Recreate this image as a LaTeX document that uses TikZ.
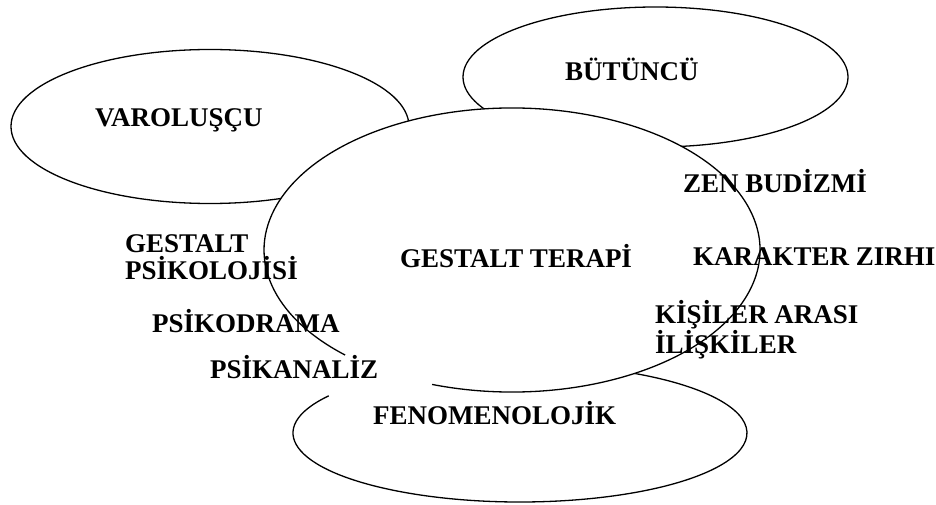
\documentclass[tikz,border=0pt]{standalone}
\usepackage{fontspec}
\setmainfont{Liberation Serif}
\begin{document}
\begin{tikzpicture}[x=1pt,y=1pt,
  outline/.style={draw=black,line width=1.3pt},
  lbl/.style={inner sep=0pt,anchor=base west,font=\bfseries\fontsize{27}{27}\selectfont,align=left}]
\useasboundingbox[fill=white] (0,0) rectangle (936,-505);
% centres
\coordinate (cv) at (210,-126.5);
\coordinate (cb) at (655.5,-77);
\coordinate (cf) at (520,-433);
\coordinate (cg) at (512,-250);
% outer ellipses
\draw[outline] (cv) ellipse[x radius=199pt,y radius=77pt];
\draw[outline] (cb) ellipse[x radius=192.5pt,y radius=70pt];
\draw[outline] ([shift={(147.4:227pt and 69pt)}]cf) arc[start angle=147.4,end angle=430,x radius=227pt,y radius=69pt];
% central ellipse on top
\fill[white] (cg) ellipse[x radius=248pt,y radius=142pt];
\draw[outline] ([shift={(251.2:248pt and 142pt)}]cg) arc[start angle=251.2,end angle=587.7,x radius=248pt,y radius=142pt];
% labels
\node[lbl] (varolus) at (95,-127) {VAROLUŞÇU};
\node[lbl] (butuncu) at (565,-81) {BÜTÜNCÜ};
\node[lbl] (gterapi) at (400,-267) {GESTALT TERAPİ};
\node[lbl] (gpsiko) at (125,-279) {GESTALT\\PSİKOLOJİSİ};
\node[lbl] (psikodrama) at (152,-332) {PSİKODRAMA};
\node[lbl] (psikanaliz) at (210,-378) {PSİKANALİZ};
\node[lbl] (zen) at (683,-193) {ZEN BUDİZMİ};
\node[lbl] (karakter) at (693,-265) {KARAKTER ZIRHI};
\node[lbl] (kisiler) at (655,-353) {KİŞİLER ARASI\\İLİŞKİLER};
\node[lbl] (fenom) at (373,-424) {FENOMENOLOJİK};
\end{tikzpicture}
\end{document}
